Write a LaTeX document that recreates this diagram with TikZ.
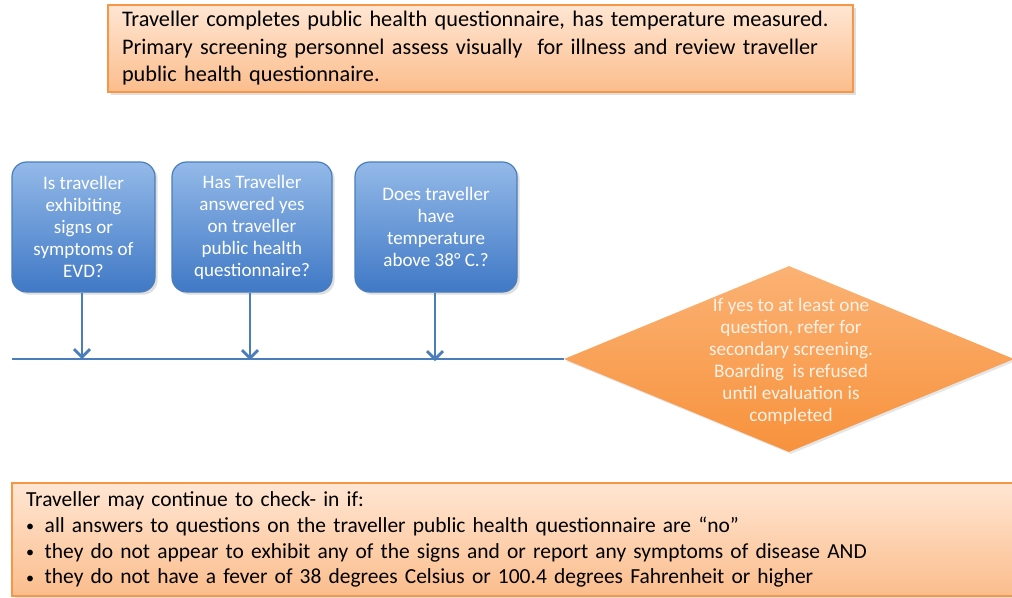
\documentclass[tikz,border=0pt]{standalone}
\usepackage{fontspec}
\setmainfont{Carlito}
\usetikzlibrary{shapes.geometric,arrows.meta,shadows}
\definecolor{obord}{HTML}{F79646}
\definecolor{otop}{HTML}{FFE6D3}
\definecolor{obot}{HTML}{FBBD8C}
\definecolor{btop}{HTML}{93B9E8}
\definecolor{bbot}{HTML}{4079C6}
\definecolor{bbord}{HTML}{4A7EBB}
\definecolor{conn}{HTML}{4A7EBB}
\definecolor{dtop}{HTML}{FBB274}
\definecolor{dbot}{HTML}{F7923C}
\definecolor{dtxt}{HTML}{FEF1E6}
\newcommand\bulletmark{\makebox[14pt][l]{\raisebox{0.5pt}{\scalebox{0.75}{•}}}}
\tikzset{
  peachbox/.style={draw=obord, line width=1.6pt, top color=otop, bottom color=obot,
    drop shadow={opacity=0.25, shadow xshift=2pt, shadow yshift=-2pt}},
  qbox/.style={draw=bbord, line width=0.9pt, rounded corners=11pt, top color=btop, bottom color=bbot,
    minimum height=97.5pt, align=center, text=white, inner sep=0pt,
    font=\fontsize{14.3}{16.5}\selectfont,
    drop shadow={opacity=0.25, shadow xshift=2pt, shadow yshift=-2pt}},
  decision/.style={diamond, inner sep=0pt, minimum width=337.5pt, minimum height=139.5pt,
    top color=dtop, bottom color=dbot, draw=none,
    drop shadow={opacity=0.2, shadow xshift=1.5pt, shadow yshift=-1.5pt}},
  flowarrow/.style={draw=conn, line width=2.1pt, -{Straight Barb[length=6pt,width=12pt,line width=2pt]}},
  baseline/.style={draw=conn, line width=2pt}
}
\begin{document}
\begin{tikzpicture}[x=0.75pt,y=-0.75pt]
\useasboundingbox (0,0) rectangle (1012,597);
% top box
\node[peachbox, minimum width=558.75pt, minimum height=65.25pt, inner xsep=10.5pt,
  text width=537.75pt, align=left, font=\fontsize{16.7}{20.6}\selectfont]
  (top) at (480.5,48.5)
  {Traveller completes public health questionnaire, has temperature measured.\\
   Primary screening personnel assess visually\ \ for illness and review traveller\\
   public health questionnaire.};
% question boxes
\node[qbox, minimum width=107.25pt] (q1) at (83.5,227)
  {Is traveller\\exhibiting\\signs or\\symptoms of\\EVD?};
\node[qbox, minimum width=120pt] (q2) at (252,227)
  {Has Traveller\\answered yes\\on traveller\\public health\\questionnaire?};
\node[qbox, minimum width=121.5pt] (q3) at (436,227)
  {Does traveller\\have\\temperature\\above 38° C.?};
% decision diamond
\node[decision] (d) at (789,359) {};
\node[align=center, text=dtxt, font=\fontsize{14.4}{16.5}\selectfont] (dt) at (791,361)
  {If yes to at least one\\question, refer for\\secondary screening.\\Boarding\ \ is refused\\until evaluation is\\completed};
% horizontal line
\coordinate (ls) at (12,359);
\draw[baseline] (ls) -- (d.west);
% arrows
\coordinate (a1) at (82,359);
\coordinate (a2) at (250,360);
\coordinate (a3) at (435,361);
\draw[flowarrow] (q1.south -| a1) -- (a1);
\draw[flowarrow] (q2.south -| a2) -- (a2);
\draw[flowarrow] (q3.south -| a3) -- (a3);
% bottom box
\node[peachbox, anchor=north west, minimum width=775pt, minimum height=84.75pt,
  inner xsep=7.5pt, inner ysep=3pt, text width=754pt, align=left,
  font=\fontsize{16.1}{19.3}\selectfont]
  (bot) at (11,482)
  {Traveller may continue to check- in if:\\
   \bulletmark all answers to questions on the traveller public health questionnaire are “no”\\
   \bulletmark they do not appear to exhibit any of the signs and or report any symptoms of disease AND\\
   \bulletmark they do not have a fever of 38 degrees Celsius or 100.4 degrees Fahrenheit or higher};
\end{tikzpicture}
\end{document}
